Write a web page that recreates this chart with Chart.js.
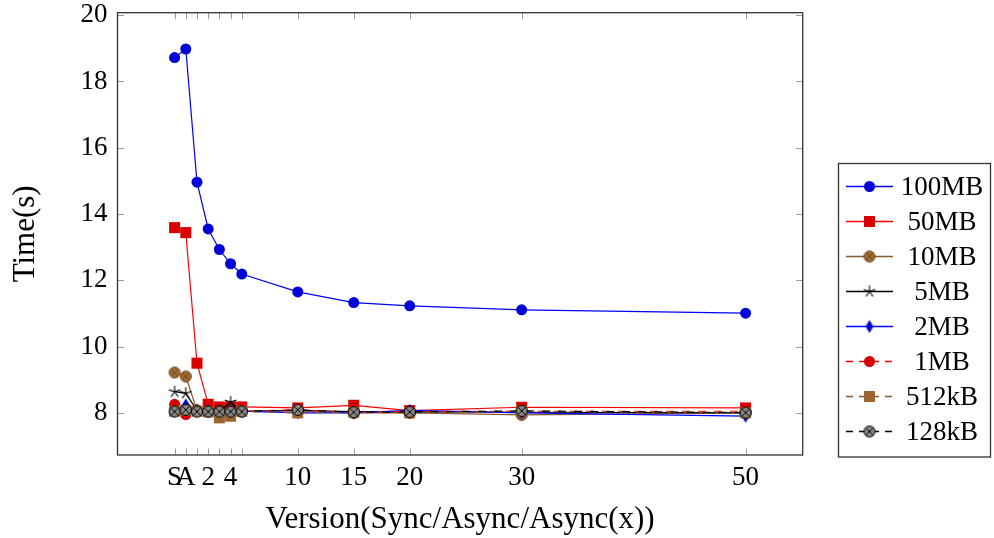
<!DOCTYPE html>
<html>
<head>
<meta charset="utf-8">
<script src="https://cdn.jsdelivr.net/npm/chart.js@4.4.1/dist/chart.umd.min.js"></script>
<style>
html,body{margin:0;padding:0;background:#fff;}
canvas{display:block;}
</style>
</head>
<body>
<canvas id="c" width="994" height="538"></canvas>
<script>
// ---- data ----
const xValues = [-1, 0, 1, 2, 3, 4, 5, 10, 15, 20, 30, 50];
const xTickValues = [-1, 0, 1, 2, 3, 4, 5, 10, 15, 20, 30, 50];
const xTickLabels = ['S', 'A', '', '2', '', '4', '', '10', '15', '20', '30', '50'];
const yTickValues = [8, 10, 12, 14, 16, 18, 20];
const seriesNames = ['100MB', '50MB', '10MB', '5MB', '2MB', '1MB', '512kB', '128kB'];
const s100MB = [18.72, 18.98, 14.96, 13.55, 12.93, 12.50, 12.19, 11.65, 11.33, 11.23, 11.11, 11.01];
const s50MB  = [13.59, 13.44, 9.50, 8.26, 8.18, 8.18, 8.18, 8.15, 8.23, 8.07, 8.17, 8.15];
const s10MB  = [9.22, 9.10, 8.08, 8.05, 8.05, 8.05, 8.05, 8.05, 8.00, 8.00, 7.94, 8.00];
const s5MB   = [8.64, 8.59, 8.08, 8.05, 8.05, 8.33, 8.05, 8.08, 8.04, 8.03, 8.02, 8.00];
const s2MB   = [8.10, 8.24, 8.06, 8.05, 8.05, 8.05, 8.05, 8.00, 8.00, 8.08, 8.00, 7.90];
const s1MB   = [8.26, 7.95, 8.05, 8.05, 8.05, 8.05, 8.05, 8.10, 8.00, 8.05, 8.05, 8.05];
const s512kB = [8.05, 8.08, 8.05, 8.03, 7.85, 7.90, 8.05, 8.00, 8.02, 8.00, 8.05, 8.00];
const s128kB = [8.04, 8.09, 8.04, 8.04, 8.04, 8.04, 8.04, 8.09, 8.02, 8.03, 8.06, 8.01];

// ---- custom markers ----
function makeCanvas(w, h, draw) {
  const c = document.createElement('canvas');
  c.width = w; c.height = h;
  const g = c.getContext('2d');
  draw(g, w, h);
  return c;
}
function otimes(fill, stroke) {
  const r = 5.5;
  return makeCanvas(14, 14, (g) => {
    const cx = 7, cy = 7;
    g.beginPath(); g.arc(cx, cy, r, 0, Math.PI * 2);
    g.fillStyle = fill; g.fill();
    g.lineWidth = 1; g.strokeStyle = stroke; g.stroke();
    const d = r * Math.SQRT1_2;
    g.beginPath();
    g.moveTo(cx - d, cy - d); g.lineTo(cx + d, cy + d);
    g.moveTo(cx + d, cy - d); g.lineTo(cx - d, cy + d);
    g.stroke();
  });
}
function starMark(color) {
  return makeCanvas(16, 16, (g) => {
    const cx = 8, cy = 8, r = 6;
    g.strokeStyle = color; g.lineWidth = 1.1;
    g.beginPath();
    for (let k = 0; k < 5; k++) {
      const a = -Math.PI / 2 + k * 2 * Math.PI / 5;
      g.moveTo(cx, cy); g.lineTo(cx + r * Math.cos(a), cy + r * Math.sin(a));
    }
    g.stroke();
  });
}
function diamondMark(color) {
  return makeCanvas(12, 16, (g) => {
    const cx = 6, cy = 8;
    g.beginPath();
    g.moveTo(cx, cy - 6.5); g.lineTo(cx + 4, cy); g.lineTo(cx, cy + 6.5); g.lineTo(cx - 4, cy);
    g.closePath();
    g.fillStyle = color; g.fill();
  });
}

const BLUE_L = '#0000ff', BLUE_M = '#0000d8';
const RED_L = '#ff0000', RED_M = '#d80000';
const BROWN_L = '#845a2e', BROWN_M = '#a06a32';

const styles = [
  {line: BLUE_L, fill: BLUE_M, style: 'circle', r: 5.5, dash: []},
  {line: RED_L, fill: RED_M, style: 'rect', r: 7.8, dash: []},
  {line: BROWN_L, fill: BROWN_M, style: otimes('#a0692f', '#6e4a22'), r: 6, dash: []},
  {line: '#000000', fill: '#000000', style: starMark('#000000'), r: 6, dash: []},
  {line: BLUE_L, fill: BLUE_M, style: diamondMark(BLUE_M), r: 6, dash: []},
  {line: RED_L, fill: RED_M, style: 'circle', r: 5.5, dash: [8, 8]},
  {line: BROWN_L, fill: '#9c6633', style: 'rect', r: 7.8, dash: [8, 8]},
  {line: '#000000', fill: '#808080', style: otimes('#888888', '#000000'), r: 6, dash: [8, 8]},
];
const seriesData = [s100MB, s50MB, s10MB, s5MB, s2MB, s1MB, s512kB, s128kB];

const datasets = seriesData.map((vals, i) => ({
  label: seriesNames[i],
  data: vals.map((v, j) => ({x: xValues[j], y: v})),
  borderColor: styles[i].line,
  backgroundColor: styles[i].fill,
  borderWidth: 1.2,
  borderDash: styles[i].dash,
  pointStyle: styles[i].style,
  pointRadius: styles[i].r,
  pointHoverRadius: styles[i].r,
  pointBackgroundColor: styles[i].fill,
  pointBorderColor: styles[i].fill,
  pointBorderWidth: 0,
  tension: 0,
  order: seriesData.length - i,
  clip: false,
}));

const FONT = "'Liberation Serif', 'DejaVu Serif', serif";
const FS = 27;
const TFS = 31;

const frame = {
  id: 'frame',
  afterDatasetsDraw(chart) {
    const {ctx, chartArea: a, scales} = chart;
    ctx.save();
    ctx.strokeStyle = '#9a9a9a';
    ctx.lineWidth = 1;
    ctx.beginPath();
    xTickValues.forEach(v => {
      const px = Math.round(scales.x.getPixelForValue(v)) + 0.5;
      ctx.moveTo(px, a.bottom); ctx.lineTo(px, a.bottom - 6.5);
      ctx.moveTo(px, a.top); ctx.lineTo(px, a.top + 6.5);
    });
    yTickValues.forEach(v => {
      const py = Math.round(scales.y.getPixelForValue(v)) + 0.5;
      ctx.moveTo(a.left, py); ctx.lineTo(a.left + 6.5, py);
      ctx.moveTo(a.right, py); ctx.lineTo(a.right - 6.5, py);
    });
    ctx.stroke();
    ctx.strokeStyle = '#333';
    ctx.lineWidth = 1.3;
    ctx.strokeRect(a.left, a.top, a.right - a.left, a.bottom - a.top);

    // legend
    const lx = 838.5, ly = 163.5, lw = 152, lh = 293.5;
    ctx.fillStyle = '#fff';
    ctx.fillRect(lx, ly, lw, lh);
    ctx.strokeStyle = '#333';
    ctx.lineWidth = 1.3;
    ctx.strokeRect(lx, ly, lw, lh);
    ctx.font = FS + 'px ' + FONT;
    ctx.textAlign = 'center';
    ctx.textBaseline = 'middle';
    chart.data.datasets.forEach((ds, i) => {
      const st = styles[i];
      const cy = 186.5 + i * 35;
      ctx.save();
      ctx.strokeStyle = st.line;
      ctx.lineWidth = 1.3;
      ctx.setLineDash(st.dash.length ? [7, 6] : []);
      ctx.beginPath(); ctx.moveTo(846, cy); ctx.lineTo(893, cy); ctx.stroke();
      ctx.restore();
      const ps = st.style;
      if (typeof ps === 'string') {
        ctx.fillStyle = st.fill;
        ctx.beginPath();
        if (ps === 'circle') { ctx.arc(869.5, cy, st.r, 0, Math.PI * 2); }
        else { const s = st.r * Math.SQRT1_2; ctx.rect(869.5 - s, cy - s, 2 * s, 2 * s); }
        ctx.fill();
      } else {
        ctx.drawImage(ps, 869.5 - ps.width / 2, cy - ps.height / 2);
      }
      ctx.fillStyle = '#000';
      ctx.fillText(ds.label, 942, cy + 1);
    });
    ctx.restore();
  }
};

new Chart(document.getElementById('c'), {
  type: 'line',
  data: {datasets},
  plugins: [frame],
  options: {
    responsive: false,
    devicePixelRatio: 1,
    animation: false,
    events: [],
    layout: {padding: {left: 0, top: 12.7, right: 191.3, bottom: 0}},
    plugins: {legend: {display: false}, tooltip: {enabled: false}},
    scales: {
      x: {
        type: 'linear',
        min: -6.1, max: 55.1,
        afterFit: (s) => { s.height = 83; s.paddingLeft = 0; s.paddingRight = 0; },
        afterBuildTicks: (s) => { s.ticks = xTickValues.map(v => ({value: v})); },
        grid: {display: false, drawTicks: false},
        border: {display: false},
        ticks: {
          autoSkip: false, maxRotation: 0, minRotation: 0, padding: 7,
          color: '#000', font: {family: FONT, size: FS},
          callback: (v) => { const k = xTickValues.indexOf(v); return k >= 0 ? xTickLabels[k] : ''; }
        },
        title: {display: true, text: 'Version(Sync/Async/Async(x))', color: '#000',
                font: {family: FONT, size: TFS}, padding: {top: 0, bottom: 0}}
      },
      y: {
        type: 'linear',
        min: 6.73, max: 20.075,
        afterFit: (s) => { s.width = 117.5; s.paddingTop = 0; s.paddingBottom = 0; },
        afterBuildTicks: (s) => { s.ticks = yTickValues.map(v => ({value: v})); },
        grid: {display: false, drawTicks: false},
        border: {display: false},
        ticks: {padding: 10, color: '#000', font: {family: FONT, size: FS}},
        title: {display: true, text: 'Time(s)', color: '#000',
                font: {family: FONT, size: TFS}, padding: {top: 7.5, bottom: 0}}
      }
    }
  }
});
</script>
</body>
</html>
